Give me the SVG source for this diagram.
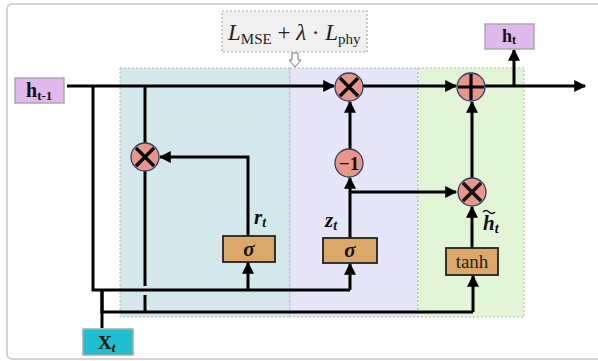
<svg xmlns="http://www.w3.org/2000/svg" width="598" height="361" viewBox="0 0 598 361">
<defs>
<marker id="ah" viewBox="0 0 10 10" refX="9" refY="5" markerWidth="4.2" markerHeight="4" markerUnits="strokeWidth" orient="auto">
<path d="M0,0 L10,5 L0,10 z" fill="#000"/>
</marker>
<style>
.ln{fill:none;stroke:#000;stroke-width:3}
.ar{fill:none;stroke:#000;stroke-width:3;marker-end:url(#ah)}
.op{fill:#e8968a;stroke:#2e3f66;stroke-width:1.3}
.sym{stroke:#000;stroke-width:3.2;fill:none}
.gate{fill:#dca86a;stroke:#222;stroke-width:1.8}
.lbl{font-family:"Liberation Serif","DejaVu Serif",serif;font-weight:bold;fill:#111}
.math{font-family:"Liberation Serif","DejaVu Serif",serif;fill:#222}
.io{stroke:#aaa;stroke-width:1.5}
</style>
</defs>
<rect x="7" y="4" width="600" height="355" rx="5" fill="#fff" stroke="#c8c8c8" stroke-width="1.5"/>
<g id="regions">
<rect x="120" y="68" width="170" height="249" fill="#d4e8ec" stroke="#b5b5b5" stroke-width="1" stroke-dasharray="2,2"/>
<rect x="290" y="68" width="128" height="249" fill="#e6e6f8" stroke="#b5b5b5" stroke-width="1" stroke-dasharray="2,2"/>
<rect x="418" y="68" width="106" height="249" fill="#e2f5d6" stroke="#b5b5b5" stroke-width="1" stroke-dasharray="2,2"/>
</g>
<g id="loss">
<rect x="222" y="11" width="145" height="41" fill="#f0f0f0" stroke="#a8a8a8" stroke-width="1.2" stroke-dasharray="2,2"/>
<text class="math" x="228" y="40" font-size="23"><tspan font-style="italic">L</tspan><tspan font-size="15" dy="4">MSE</tspan><tspan dy="-4"> + </tspan><tspan font-style="italic">λ</tspan><tspan> · </tspan><tspan font-style="italic">L</tspan><tspan font-size="15" dy="4">phy</tspan></text>
<path d="M292,53 L298,53 L298,60 L301,60 L295,67 L289,60 L292,60 Z" fill="#fff" stroke="#777" stroke-width="1"/>
</g>
<g id="connectors">
<path class="ln" d="M67,86 L93,86"/>
<path class="ar" d="M93,86 L334,86"/>
<path class="ar" d="M363,86 L456,86"/>
<path class="ar" d="M485,86 L585,86"/>
<path class="ar" d="M514,86 L514,50"/>
<path class="ln" d="M93,86 L93,290 L350,290"/>
<path class="ln" d="M145,86 L145,143"/>
<path class="ln" d="M145,171 L145,286"/>
<path class="ln" d="M145,295 L145,312"/>
<path class="ln" d="M102,328 L102,290"/>
<path class="ln" d="M102,290 L102,312 L473,312"/>
<path class="ar" d="M248,290 L248,263"/>
<path class="ar" d="M248,236 L248,157 L160,157"/>
<path class="ar" d="M350,290 L350,264"/>
<path class="ar" d="M350,238 L350,178"/>
<path class="ar" d="M350,149 L350,102"/>
<path class="ar" d="M350,192 L456,192"/>
<path class="ar" d="M472,178 L472,102"/>
<path class="ar" d="M473,312 L473,276"/>
<path class="ar" d="M472,248 L472,207"/>
</g>
<g id="h_prev">
<rect class="io" x="15" y="78" width="49" height="25" fill="#e0b8ec"/>
<text class="lbl" x="26" y="97" font-size="20">h<tspan font-size="13" dy="3">t-1</tspan></text>
</g>
<g id="h_t">
<rect class="io" x="485" y="24" width="49" height="25" fill="#e0b8ec"/>
<text class="lbl" x="502" y="42" font-size="18">h<tspan font-size="12" dy="2">t</tspan></text>
</g>
<g id="x_t">
<rect class="io" x="83" y="329" width="50" height="26" fill="#1fbfcf"/>
<text class="lbl" x="98" y="349" font-size="19">X<tspan font-size="13" dy="3" font-style="italic">t</tspan></text>
</g>
<g id="mul_r">
<circle class="op" cx="145" cy="157" r="14"/>
<path class="sym" d="M136,148 L154,166 M154,148 L136,166"/>
</g>
<g id="mul_z">
<circle class="op" cx="349" cy="87" r="14"/>
<path class="sym" d="M340,78 L358,96 M358,78 L340,96"/>
</g>
<g id="add">
<circle class="op" cx="471" cy="87" r="14"/>
<path class="sym" d="M471,74 L471,100 M458,87 L484,87"/>
</g>
<g id="mul_h">
<circle class="op" cx="472" cy="192" r="14"/>
<path class="sym" d="M463,183 L481,201 M481,183 L463,201"/>
</g>
<g id="minus1">
<circle class="op" cx="349" cy="163" r="14"/>
<text class="lbl" x="349" y="170" font-size="19" text-anchor="middle">−1</text>
</g>
<g id="sigma_r">
<rect class="gate" x="223" y="236" width="52" height="26"/>
<text class="lbl" x="249" y="256" font-size="21" font-style="italic" text-anchor="middle">σ</text>
<text class="lbl" x="254" y="224" font-size="21" font-style="italic">r<tspan font-size="14" dy="3">t</tspan></text>
</g>
<g id="sigma_z">
<rect class="gate" x="323" y="238" width="54" height="25"/>
<text class="lbl" x="350" y="257" font-size="21" font-style="italic" text-anchor="middle">σ</text>
<text class="lbl" x="325" y="227" font-size="21" font-style="italic">z<tspan font-size="14" dy="3">t</tspan></text>
</g>
<g id="tanh">
<rect class="gate" x="446" y="248" width="52" height="27"/>
<text class="math" x="472" y="268" font-size="19" text-anchor="middle">tanh</text>
<text class="lbl" x="483" y="230" font-size="21" font-style="italic">h<tspan font-size="14" dy="3">t</tspan></text>
<path d="M483,212 q3,-3 6,0 t6,0" fill="none" stroke="#111" stroke-width="1.5"/>
</g>
</svg>
